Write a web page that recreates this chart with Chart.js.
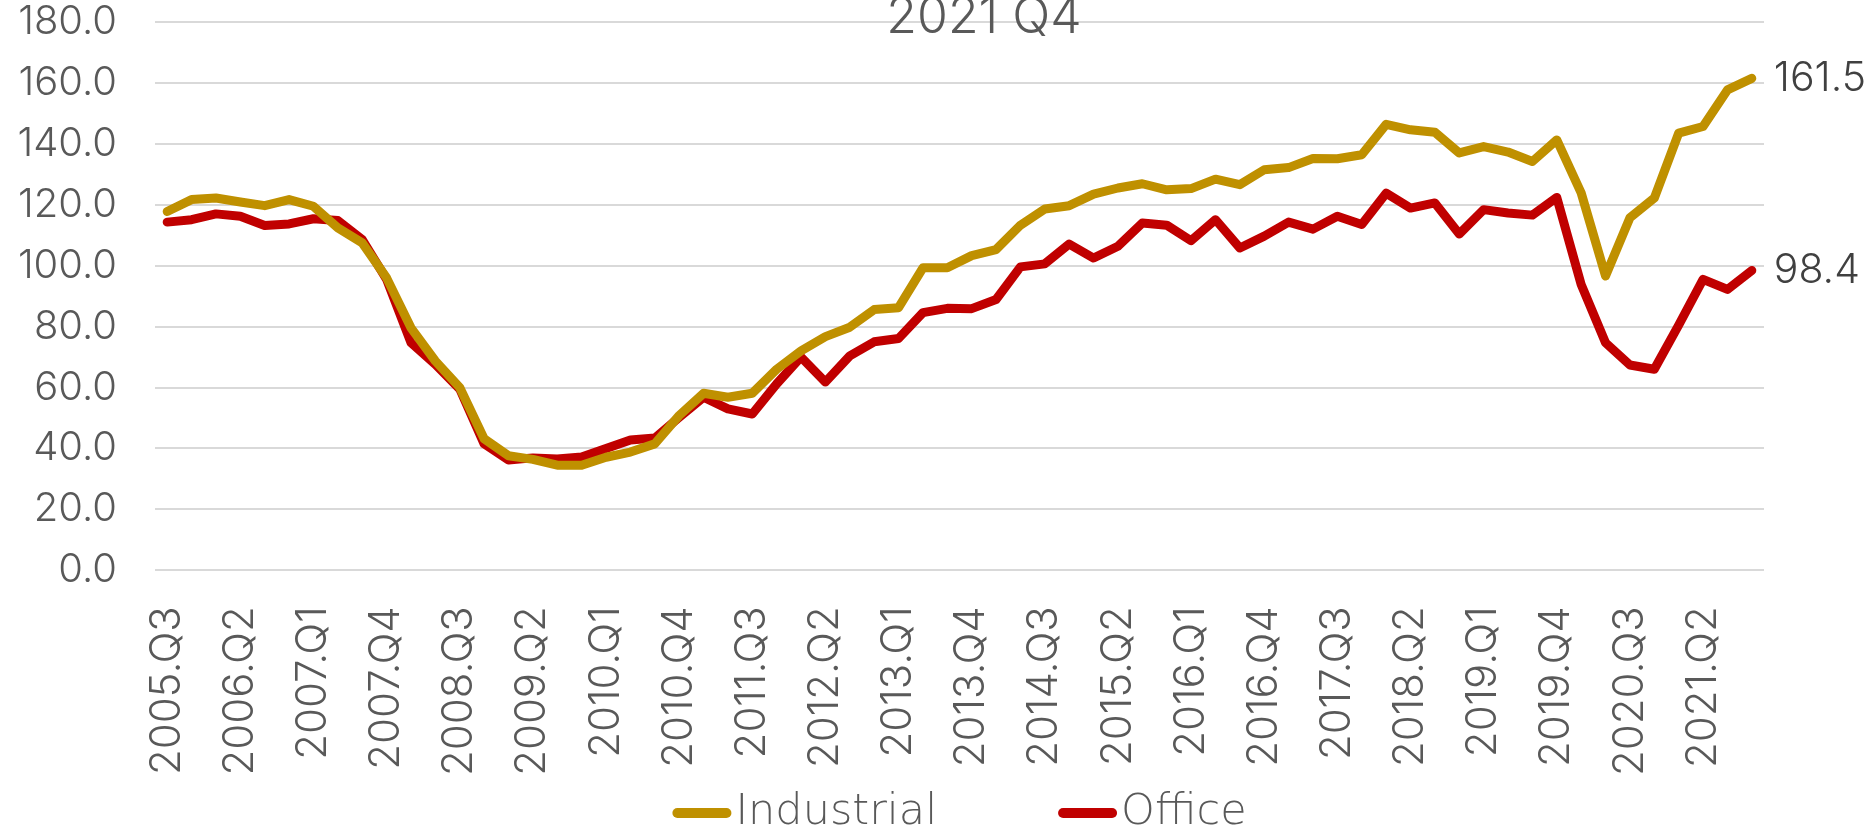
<!DOCTYPE html>
<html>
<head>
<meta charset="utf-8">
<script src="https://cdn.jsdelivr.net/npm/chart.js@4.4.0/dist/chart.umd.min.js"></script>
<style>
    html, body { margin: 0; padding: 0; background: #fff; }
    #wrap { width: 1870px; height: 832px; position: relative; overflow: hidden; }
</style>
</head>
<body>
<div id="wrap"><canvas id="chart" width="1870" height="832"></canvas></div>
<script>
// Quarterly index, 2005.Q3 - 2021.Q4
const quarters = [
    '2005.Q3', '2005.Q4',
    '2006.Q1', '2006.Q2', '2006.Q3', '2006.Q4',
    '2007.Q1', '2007.Q2', '2007.Q3', '2007.Q4',
    '2008.Q1', '2008.Q2', '2008.Q3', '2008.Q4',
    '2009.Q1', '2009.Q2', '2009.Q3', '2009.Q4',
    '2010.Q1', '2010.Q2', '2010.Q3', '2010.Q4',
    '2011.Q1', '2011.Q2', '2011.Q3', '2011.Q4',
    '2012.Q1', '2012.Q2', '2012.Q3', '2012.Q4',
    '2013.Q1', '2013.Q2', '2013.Q3', '2013.Q4',
    '2014.Q1', '2014.Q2', '2014.Q3', '2014.Q4',
    '2015.Q1', '2015.Q2', '2015.Q3', '2015.Q4',
    '2016.Q1', '2016.Q2', '2016.Q3', '2016.Q4',
    '2017.Q1', '2017.Q2', '2017.Q3', '2017.Q4',
    '2018.Q1', '2018.Q2', '2018.Q3', '2018.Q4',
    '2019.Q1', '2019.Q2', '2019.Q3', '2019.Q4',
    '2020.Q1', '2020.Q2', '2020.Q3', '2020.Q4',
    '2021.Q1', '2021.Q2', '2021.Q3', '2021.Q4'
];

const industrial = [
    117.8, 121.7,
    122.2, 120.9, 119.7, 121.7,
    119.5, 112.4, 107.5, 96.0,
    79.6, 68.7, 60.0, 43.2,
    37.6, 36.4, 34.5, 34.5,
    37.1, 38.8, 41.5, 50.8,
    58.1, 56.8, 58.1, 66.0,
    72.0, 76.7, 79.8, 85.6,
    86.2, 99.3, 99.3, 103.3,
    105.3, 113.3, 118.6, 119.7,
    123.5, 125.5, 126.9, 124.9,
    125.3, 128.4, 126.6, 131.5,
    132.2, 135.2, 135.1, 136.4,
    146.4, 144.6, 143.8, 137.0,
    139.1, 137.3, 134.2, 141.3,
    123.9, 96.6, 115.7, 122.2,
    143.5, 145.7, 157.7, 161.5
];

const office = [
    114.3, 115.1,
    117.0, 116.2, 113.2, 113.7,
    115.4, 114.8, 108.6, 95.5,
    74.7, 67.6, 59.5, 41.5,
    36.2, 36.9, 36.5, 37.2,
    40.0, 42.8, 43.4, 50.2,
    56.8, 53.0, 51.3, 61.2,
    70.0, 61.8, 70.4, 75.0,
    76.1, 84.6, 86.0, 85.9,
    88.9, 99.6, 100.6, 107.1,
    102.5, 106.4, 114.0, 113.3,
    108.2, 115.1, 105.8, 109.7,
    114.3, 112.0, 116.2, 113.5,
    123.8, 118.9, 120.6, 110.4,
    118.4, 117.3, 116.6, 122.4,
    93.8, 74.7, 67.4, 66.0,
    80.5, 95.5, 92.2, 98.4
];

const seriesNames = ['Industrial', 'Office'];
const seriesColors = ['#BF9000', '#C00000'];
const titleText = '2021 Q4';

const fontFamily = 'Inter, Lato, "Open Sans", sans-serif';
const xTickFont = { family: fontFamily, size: 42, weight: '300' };
const yTickFont = { family: fontFamily, size: 40, weight: '300' };
const tickColor = '#595959';

// Title sits partly above the canvas top, as in the source image
const titlePlugin = {
    id: 'topTitle',
    afterDraw(chart) {
        const ctx = chart.ctx;
        ctx.save();
        ctx.font = '300 50px ' + fontFamily;
        ctx.fillStyle = tickColor;
        ctx.textAlign = 'center';
        ctx.textBaseline = 'alphabetic';
        ctx.fillText(titleText, 984, 33);
        ctx.restore();
    }
};

// Last value printed next to the end of each line
const endLabelPlugin = {
    id: 'endLabels',
    afterDatasetsDraw(chart) {
        const ctx = chart.ctx;
        ctx.save();
        ctx.font = '300 41px ' + fontFamily;
        ctx.fillStyle = '#404040';
        ctx.textAlign = 'left';
        ctx.textBaseline = 'middle';
        chart.data.datasets.forEach((ds, i) => {
            const meta = chart.getDatasetMeta(i);
            const pt = meta.data[meta.data.length - 1];
            const val = ds.data[ds.data.length - 1];
            ctx.fillText(val.toFixed(1), pt.x + 22, pt.y);
        });
        ctx.restore();
    }
};

// Bottom legend: short thick line followed by the series name
const legendPlugin = {
    id: 'lineLegend',
    afterDraw(chart) {
        const ctx = chart.ctx;
        const swatch = 59, gap = 4, itemGap = 121, y = 813;
        ctx.save();
        ctx.font = '200 43px "DejaVu Sans", sans-serif';
        const widths = chart.data.datasets.map(ds => ctx.measureText(ds.label).width);
        let total = 0;
        widths.forEach((w, i) => { total += swatch + gap + w + (i > 0 ? itemGap : 0); });
        const area = chart.chartArea;
        let x = (area.left + area.right) / 2 - total / 2;
        chart.data.datasets.forEach((ds, i) => {
            ctx.strokeStyle = ds.borderColor;
            ctx.lineWidth = 10;
            ctx.lineCap = 'round';
            ctx.beginPath();
            ctx.moveTo(x + 5, y);
            ctx.lineTo(x + swatch - 5, y);
            ctx.stroke();
            ctx.fillStyle = tickColor;
            ctx.textAlign = 'left';
            ctx.textBaseline = 'middle';
            ctx.fillText(ds.label, x + swatch + gap, y);
            x += swatch + gap + widths[i] + itemGap;
        });
        ctx.restore();
    }
};

new Chart(document.getElementById('chart'), {
    type: 'line',
    data: {
        labels: quarters,
        datasets: [
            { label: seriesNames[0], data: industrial, borderColor: seriesColors[0], backgroundColor: seriesColors[0] },
            { label: seriesNames[1], data: office, borderColor: seriesColors[1], backgroundColor: seriesColors[1] }
        ]
    },
    options: {
        responsive: false,
        animation: false,
        devicePixelRatio: 1,
        layout: { padding: { left: 0, right: 106, top: 0, bottom: 28 } },
        elements: {
            point: { radius: 0, hoverRadius: 0 },
            line: { tension: 0, borderWidth: 9, borderCapStyle: 'round', borderJoinStyle: 'round' }
        },
        plugins: {
            legend: { display: false },
            tooltip: { enabled: false }
        },
        scales: {
            x: {
                offset: true,
                grid: { display: false },
                border: { display: false },
                ticks: {
                    autoSkip: false,
                    minRotation: 90,
                    maxRotation: 90,
                    padding: 28,
                    color: tickColor,
                    font: xTickFont,
                    callback: (value, index) => (index % 3 === 0 ? quarters[index] : '')
                }
            },
            y: {
                min: 0,
                max: 180,
                grid: { color: '#d9d9d9', lineWidth: 2, drawTicks: false },
                border: { display: false },
                ticks: {
                    stepSize: 20,
                    padding: 38,
                    color: tickColor,
                    font: yTickFont,
                    callback: value => value.toFixed(1)
                },
                // keep the label gap from pushing the plot down
                afterFit: scale => {
                    scale.width = 155;
                    scale.paddingTop = 22;
                    scale.paddingBottom = 22;
                }
            }
        }
    },
    plugins: [titlePlugin, endLabelPlugin, legendPlugin]
});
</script>
</body>
</html>
